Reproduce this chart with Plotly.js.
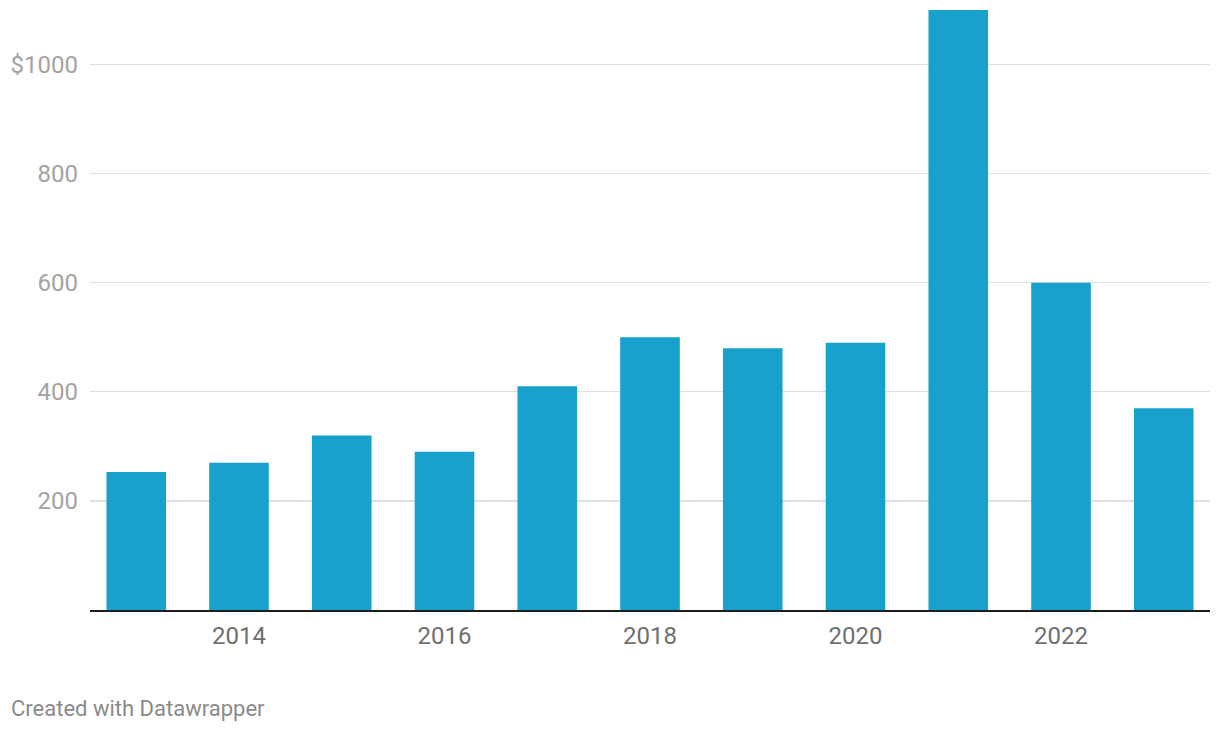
<!DOCTYPE html>
<html>
<head>
<meta charset="utf-8">
<script src="https://cdn.plot.ly/plotly-3.0.1.min.js"></script>
<style>
html,body{margin:0;padding:0;background:#fff;}
#chart{width:1220px;height:732px;}
</style>
</head>
<body>
<div id="chart"></div>
<script>
const years = [2013, 2014, 2015, 2016, 2017, 2018, 2019, 2020, 2021, 2022, 2023];
const values = [253, 270, 320, 290, 410, 500, 480, 490, 1100, 600, 370];
const xTickVals = [2014, 2016, 2018, 2020, 2022];
const xTickText = ['2014', '2016', '2018', '2020', '2022'];
const yTickVals = [200, 400, 600, 800, 1000];
const yTickText = ['200', '400', '600', '800', '$1000'];

const trace = {
  type: 'bar',
  x: years,
  y: values,
  width: 0.58,
  marker: {color: '#18a1cd'},
  hoverinfo: 'x+y'
};

const layout = {
  width: 1220,
  height: 732,
  margin: {l: 90, r: 10, t: 10, b: 122},
  paper_bgcolor: '#fff',
  plot_bgcolor: '#fff',
  showlegend: false,
  font: {family: 'Roboto, sans-serif'},
  xaxis: {
    range: [2012.55, 2023.45],
    tickvals: xTickVals,
    ticktext: xTickText,
    showgrid: false,
    zeroline: false,
    showline: true,
    linecolor: '#1d1d1d',
    linewidth: 2,
    ticks: '',
    ticklabelstandoff: 3,
    tickfont: {family: 'Roboto, sans-serif', size: 24, color: '#6f6f6f'},
    fixedrange: true
  },
  yaxis: {
    range: [0, 1100],
    tickvals: yTickVals,
    ticktext: yTickText,
    showgrid: true,
    gridcolor: '#e0e0e0',
    gridwidth: 1.3,
    zeroline: false,
    showline: false,
    ticks: '',
    ticklabelstandoff: 11,
    tickfont: {family: 'Roboto, sans-serif', size: 24, color: '#a3a3a3'},
    fixedrange: true
  },
  annotations: [{
    text: 'Created with Datawrapper',
    xref: 'paper', yref: 'paper',
    x: -90/1120, y: (732-122-708)/600,
    xshift: 9,
    xanchor: 'left', yanchor: 'middle',
    showarrow: false,
    font: {family: 'Roboto, sans-serif', size: 22, color: '#8a8a8a'}
  }]
};

Plotly.newPlot('chart', [trace], layout, {displayModeBar: false, staticPlot: true});
</script>
</body>
</html>
